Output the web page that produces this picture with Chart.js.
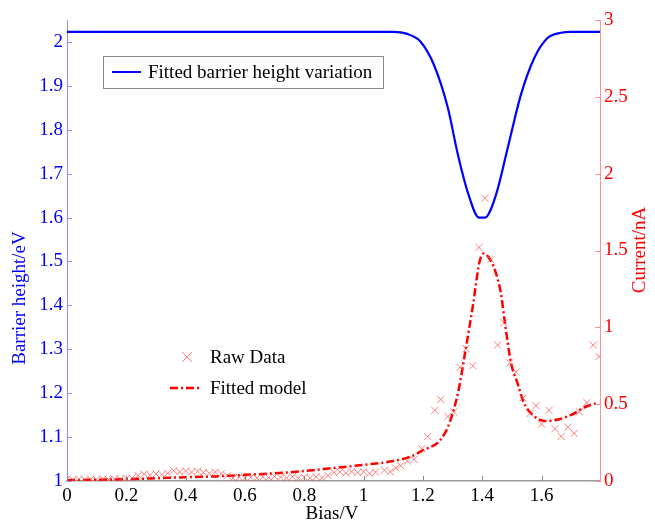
<!DOCTYPE html>
<html>
<head>
<meta charset="utf-8">
<script src="https://cdn.jsdelivr.net/npm/chart.js@4/dist/chart.umd.min.js"></script>
<style>
  html, body { margin: 0; padding: 0; background: #fff; }
  #wrap { width: 655px; height: 524px; }
</style>
</head>
<body>
<div id="wrap"><canvas id="c"></canvas></div>
<script>
// raw measured current (nA) vs bias (V)
var biasRaw = [0, 0.02, 0.04, 0.06, 0.08, 0.10, 0.12, 0.14, 0.16, 0.18, 0.20, 0.22, 0.24, 0.26, 0.28, 0.30,
    0.32, 0.34, 0.36, 0.38, 0.40, 0.42, 0.44, 0.46, 0.48, 0.50, 0.52, 0.54, 0.56, 0.58, 0.60, 0.62, 0.64,
    0.66, 0.68, 0.70, 0.72, 0.74, 0.76, 0.78, 0.80, 0.82, 0.84, 0.86, 0.88, 0.90, 0.92, 0.94, 0.96, 0.98,
    1.00, 1.02, 1.04, 1.07, 1.09, 1.108, 1.125, 1.148, 1.17, 1.196, 1.216, 1.24, 1.26, 1.284, 1.304, 1.325,
    1.345, 1.368, 1.389, 1.409, 1.429, 1.452, 1.473, 1.493, 1.514, 1.537, 1.561, 1.581, 1.60, 1.625, 1.645,
    1.666, 1.689, 1.71, 1.727, 1.753, 1.774, 1.794];
var currentRaw = [0.012, 0.008, 0.01, 0.007, 0.011, 0.009, 0.012, 0.01, 0.013, 0.011, 0.015, 0.02, 0.035, 0.045, 0.04, 0.046,
    0.042, 0.05, 0.068, 0.06, 0.066, 0.058, 0.064, 0.055, 0.05, 0.058, 0.048, 0.035, 0.02, 0.025, 0.018, 0.024, 0.02,
    0.028, 0.022, 0.03, 0.025, 0.02, 0.027, 0.018, 0.024, 0.02, 0.028, 0.022, 0.035, 0.055, 0.06, 0.052, 0.062, 0.055,
    0.06, 0.05, 0.058, 0.07, 0.06, 0.085, 0.10, 0.13, 0.14, 0.21, 0.29, 0.46, 0.53, 0.42, 0.45, 0.74,
    0.86, 0.75, 1.52, 1.84, 1.44, 0.885, 1.03, 0.77, 0.71, 0.54, 0.44, 0.49, 0.37, 0.46, 0.34,
    0.29, 0.35, 0.31, 0.45, 0.51, 0.885, 0.81];

// fitted model current (nA)
var biasFit = [0, 0.1, 0.2, 0.3, 0.4, 0.5, 0.6, 0.7, 0.8, 0.9, 1.0, 1.1, 1.16, 1.2, 1.26, 1.29, 1.32, 1.34,
    1.37, 1.39, 1.405, 1.43, 1.445, 1.463, 1.475, 1.497, 1.52, 1.54, 1.57, 1.61, 1.655, 1.70, 1.745, 1.79];
var currentFit = [0.005, 0.008, 0.012, 0.018, 0.025, 0.03, 0.04, 0.05, 0.065, 0.085, 0.105, 0.13, 0.16, 0.2, 0.27, 0.38, 0.59, 0.81,
    1.16, 1.42, 1.48, 1.43, 1.36, 1.22, 1.05, 0.77, 0.63, 0.51, 0.43, 0.39, 0.40, 0.43, 0.48, 0.51];

// fitted barrier height (eV)
var biasBarrier = [0, 1.1, 1.125, 1.16, 1.193, 1.237, 1.284, 1.318, 1.351, 1.389, 1.409, 1.446, 1.486,
    1.53, 1.575, 1.62, 1.666, 1.7, 1.797];
var barrierHeight = [2.023, 2.023, 2.022, 2.015, 2.0, 1.948, 1.85, 1.743, 1.658, 1.60, 1.60, 1.651, 1.759,
    1.879, 1.963, 2.009, 2.021, 2.023, 2.023];

function pts(xs, ys) {
    var out = [];
    for (var i = 0; i < xs.length; i++) out.push({x: xs[i], y: ys[i]});
    return out;
}

function plain(v) { return String(Math.round(v * 10) / 10); }

var serif = "'Liberation Serif', 'DejaVu Serif', serif";
var rawColor = 'rgba(255,70,70,0.7)';

var decor = {
    id: 'decor',
    afterDatasetsDraw: function(chart) {
        var ctx = chart.ctx;
        var xs = chart.scales.x, yl = chart.scales.yL, yr = chart.scales.yR;
        var a = chart.chartArea;
        ctx.save();
        // inward ticks
        ctx.lineWidth = 1;
        ctx.strokeStyle = '#888';
        xs.ticks.forEach(function(t) {
            var px = Math.round(xs.getPixelForValue(t.value)) + 0.5;
            ctx.beginPath(); ctx.moveTo(px, a.bottom); ctx.lineTo(px, a.bottom - 5); ctx.stroke();
        });
        ctx.strokeStyle = '#8c8cff';
        yl.ticks.forEach(function(t) {
            var py = Math.round(yl.getPixelForValue(t.value)) + 0.5;
            ctx.beginPath(); ctx.moveTo(a.left, py); ctx.lineTo(a.left + 5, py); ctx.stroke();
        });
        ctx.strokeStyle = '#ff9090';
        yr.ticks.forEach(function(t) {
            var py = Math.round(yr.getPixelForValue(t.value)) + 0.5;
            ctx.beginPath(); ctx.moveTo(a.right, py); ctx.lineTo(a.right - 5, py); ctx.stroke();
        });

        // axis titles
        ctx.font = '19px ' + serif;
        ctx.textAlign = 'center';
        ctx.textBaseline = 'middle';
        ctx.fillStyle = '#000';
        ctx.fillText('Bias/V', 332, 514);
        ctx.save();
        ctx.translate(20, 298);
        ctx.rotate(-Math.PI / 2);
        ctx.fillStyle = '#0000ff';
        ctx.fillText('Barrier height/eV', 0, 0);
        ctx.restore();
        ctx.save();
        ctx.translate(640, 250);
        ctx.rotate(-Math.PI / 2);
        ctx.fillStyle = '#ff0000';
        ctx.fillText('Current/nA', 0, 0);
        ctx.restore();

        // legend 1
        ctx.fillStyle = '#fff';
        ctx.fillRect(103.5, 56.5, 280, 32);
        ctx.strokeStyle = '#8a8a8a';
        ctx.lineWidth = 1;
        ctx.strokeRect(103.5, 56.5, 280, 32);
        ctx.strokeStyle = '#0000ff';
        ctx.lineWidth = 2;
        ctx.beginPath(); ctx.moveTo(112, 72); ctx.lineTo(141, 72); ctx.stroke();
        ctx.fillStyle = '#000';
        ctx.textAlign = 'left';
        ctx.fillText('Fitted barrier height variation', 148, 73);

        // legend 2
        ctx.strokeStyle = rawColor;
        ctx.lineWidth = 1;
        ctx.beginPath();
        ctx.moveTo(182, 352); ctx.lineTo(192, 362);
        ctx.moveTo(192, 352); ctx.lineTo(182, 362);
        ctx.stroke();
        ctx.fillText('Raw Data', 210, 358);
        ctx.strokeStyle = '#ff0000';
        ctx.lineWidth = 2.5;
        ctx.setLineDash([8, 3, 2, 3]);
        ctx.beginPath(); ctx.moveTo(170, 388); ctx.lineTo(202, 388); ctx.stroke();
        ctx.setLineDash([]);
        ctx.fillText('Fitted model', 210, 389);
        ctx.restore();
    }
};

new Chart(document.getElementById('c'), {
    type: 'scatter',
    data: {
        datasets: [
            {
                label: 'Fitted barrier height variation',
                data: pts(biasBarrier, barrierHeight),
                yAxisID: 'yL',
                showLine: true,
                borderColor: '#0000ff',
                borderWidth: 2.2,
                pointRadius: 0,
                cubicInterpolationMode: 'monotone'
            },
            {
                label: 'Raw Data',
                data: pts(biasRaw, currentRaw),
                yAxisID: 'yR',
                pointStyle: 'crossRot',
                pointRadius: 5,
                borderWidth: 1,
                borderColor: rawColor,
                backgroundColor: rawColor
            },
            {
                label: 'Fitted model',
                data: pts(biasFit, currentFit),
                yAxisID: 'yR',
                showLine: true,
                borderColor: '#ff0000',
                borderWidth: 2.5,
                borderDash: [8, 3, 2, 3],
                pointRadius: 0,
                cubicInterpolationMode: 'monotone'
            }
        ]
    },
    options: {
        responsive: true,
        maintainAspectRatio: false,
        animation: false,
        layout: { padding: { top: 20, left: 0, right: 0, bottom: 0 } },
        plugins: { legend: { display: false }, tooltip: { enabled: false } },
        scales: {
            x: {
                type: 'linear',
                min: 0, max: 1.797,
                border: { color: '#9a9a9a', width: 1.5 },
                grid: { display: false, drawTicks: false },
                ticks: { stepSize: 0.2, includeBounds: false, padding: 4, color: '#000',
                         font: { family: serif, size: 19 }, callback: plain },
                afterFit: function(s) { s.height = 43; }
            },
            yL: {
                type: 'linear',
                position: 'left',
                min: 1, max: 2.05,
                border: { color: '#8c8cff', width: 1 },
                grid: { display: false, drawTicks: false },
                ticks: { stepSize: 0.1, includeBounds: false, padding: 4, color: '#0000ff',
                         font: { family: serif, size: 19 }, callback: plain },
                afterFit: function(s) { s.width = 67; }
            },
            yR: {
                type: 'linear',
                position: 'right',
                min: 0, max: 3,
                border: { color: '#ff9090', width: 1 },
                grid: { display: false, drawTicks: false },
                ticks: { stepSize: 0.5, padding: 4, color: '#ff0000',
                         font: { family: serif, size: 19 }, callback: plain },
                afterFit: function(s) { s.width = 55; }
            }
        }
    },
    plugins: [decor]
});
</script>
</body>
</html>
